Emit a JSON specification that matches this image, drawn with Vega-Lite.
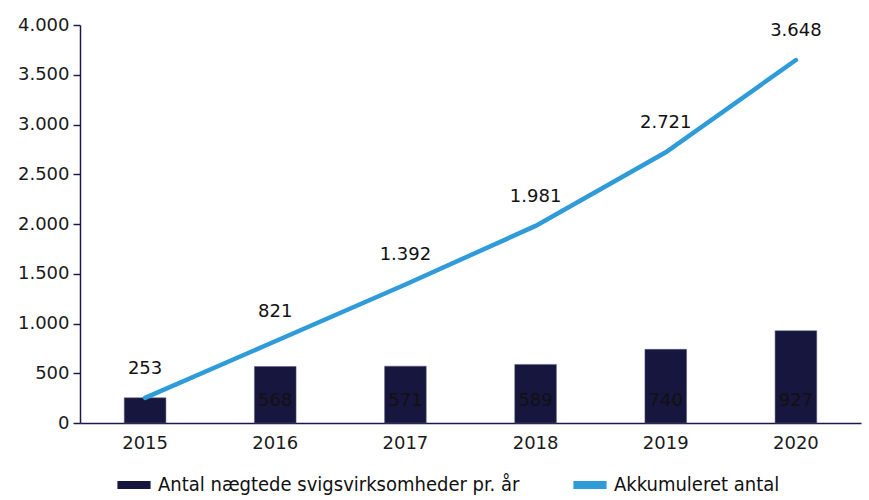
{
  "$schema": "https://vega.github.io/schema/vega-lite/v6.json",
  "autosize": {"type": "fit", "contains": "padding"},
  "width": 869,
  "height": 500,
  "padding": {"left": 17, "right": 8, "top": 16, "bottom": 48},
  "config": {
    "locale": {"number": {"decimal": ",", "thousands": ".", "grouping": [3], "currency": ["", " kr."]}},
    "view": {"stroke": null},
    "font": "DejaVu Sans",
    "axis": {"grid": false, "title": null},
    "legend": {"labelFont": "DejaVu Sans Condensed", "labelFontSize": 20, "labelColor": "#111111"}
  },
  "data": {"values": [
    {"year": "2015", "antal": 253, "akk": 253},
    {"year": "2016", "antal": 568, "akk": 821},
    {"year": "2017", "antal": 571, "akk": 1392},
    {"year": "2018", "antal": 589, "akk": 1981},
    {"year": "2019", "antal": 740, "akk": 2721},
    {"year": "2020", "antal": 927, "akk": 3648}
  ]},
  "encoding": {
    "x": {"field": "year", "type": "nominal", "sort": null, "scale": {"paddingInner": 0.68, "paddingOuter": 0.34}, "axis": {"labelAngle": 0, "ticks": false, "labelPadding": 11, "labelFontSize": 18, "labelColor": "#1a1a1a", "labelFont": "DejaVu Sans", "domainColor": "#1c1a4a", "domainWidth": 1.5}}
  },
  "layer": [
    {
      "mark": {"type": "bar", "stroke": "#5a5a78", "strokeWidth": 0.5},
      "encoding": {
        "y": {"field": "antal", "type": "quantitative", "scale": {"domain": [0, 4000]}, "axis": {"values": [0, 500, 1000, 1500, 2000, 2500, 3000, 3500, 4000], "labelOverlap": false, "tickSize": 7, "labelPadding": 4, "labelFontSize": 18, "labelColor": "#1a1a1a", "labelFont": "DejaVu Sans", "domainColor": "#1c1a4a", "domainWidth": 1.5, "tickColor": "#1c1a4a", "tickWidth": 1.5}},
        "color": {"datum": "Antal nægtede svigsvirksomheder pr. år", "type": "nominal", "scale": {"domain": ["Antal nægtede svigsvirksomheder pr. år", "Akkumuleret antal"], "range": ["#17163e", "#2f9bd9"]}, "legend": {"title": null, "orient": "none", "legendX": 33, "legendY": 439, "direction": "horizontal", "symbolType": "stroke", "symbolStrokeWidth": 8, "symbolSize": 1100, "columnPadding": 37, "labelLimit": 500, "padding": 0, "labelOffset": 3}}
      }
    },
    {
      "transform": [{"filter": "datum.year != '2015'"}],
      "mark": {"type": "text", "baseline": "middle", "dy": -22, "fontSize": 18, "color": "#111111"},
      "encoding": {
        "y": {"datum": 0, "type": "quantitative"},
        "text": {"field": "antal", "type": "quantitative", "format": ",d"}
      }
    },
    {
      "mark": {"type": "line", "strokeWidth": 4.5, "strokeCap": "round"},
      "encoding": {
        "y": {"field": "akk", "type": "quantitative"},
        "color": {"datum": "Akkumuleret antal", "type": "nominal"}
      }
    },
    {
      "mark": {"type": "text", "baseline": "middle", "dy": -29, "fontSize": 18, "color": "#111111"},
      "encoding": {
        "y": {"field": "akk", "type": "quantitative"},
        "text": {"field": "akk", "type": "quantitative", "format": ",d"}
      }
    }
  ]
}
